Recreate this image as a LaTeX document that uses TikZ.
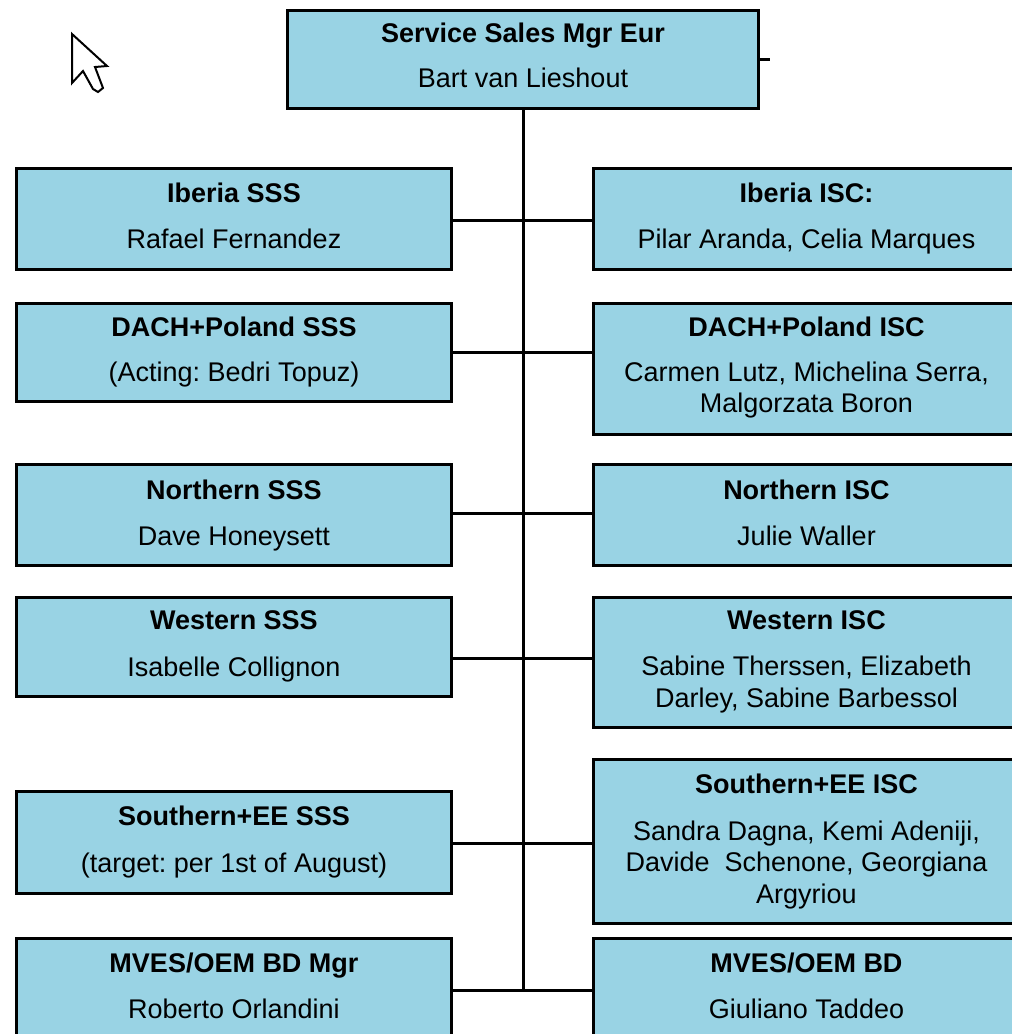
\documentclass[tikz,border=0pt]{standalone}
\usepackage{fontspec}
\setmainfont{Liberation Sans}
\frenchspacing
\definecolor{boxblue}{RGB}{153,211,228}
\begin{document}
\begin{tikzpicture}[x=1pt,y=-1pt,
  orgbox/.style={draw=black, line width=3pt, fill=boxblue, rectangle, inner sep=0pt, anchor=north west},
  conn/.style={draw=black, line width=3pt},
  ttl/.style={anchor=base, inner sep=0pt, font=\fontsize{27}{31}\selectfont\bfseries},
  nm/.style={anchor=base, inner sep=0pt, font=\fontsize{27}{31}\selectfont}]
\useasboundingbox (0,0) rectangle (1012,1034);
\clip (0,0) rectangle (1012,1034);
\fill[white] (0,0) rectangle (1012,1034);

% top box
\node[orgbox, minimum width=471pt, minimum height=98pt] (top) at (286,9) {};
\node[ttl] (topT) at ([yshift=-33pt]top.north) {Service Sales Mgr Eur};
\node[nm]  (topN) at ([yshift=-78pt]top.north) {Bart van Lieshout};

% left column
\node[orgbox, minimum width=435pt, minimum height=101pt] (iL) at (15,167) {};
\node[orgbox, minimum width=435pt, minimum height=98pt]  (dL) at (15,302) {};
\node[orgbox, minimum width=435pt, minimum height=101pt] (nL) at (15,463) {};
\node[orgbox, minimum width=435pt, minimum height=99pt]  (wL) at (15,596) {};
\node[orgbox, minimum width=435pt, minimum height=102pt] (sL) at (15,790) {};
\node[orgbox, minimum width=435pt, minimum height=104pt] (mL) at (15,937) {};

% right column
\node[orgbox, minimum width=426pt, minimum height=101pt] (iR) at (592,167) {};
\node[orgbox, minimum width=426pt, minimum height=131pt] (dR) at (592,302) {};
\node[orgbox, minimum width=426pt, minimum height=101pt] (nR) at (592,463) {};
\node[orgbox, minimum width=426pt, minimum height=130pt] (wR) at (592,596) {};
\node[orgbox, minimum width=426pt, minimum height=164pt] (sR) at (592,758) {};
\node[orgbox, minimum width=426pt, minimum height=104pt] (mR) at (592,937) {};

% texts left
\node[ttl] at ([yshift=-35pt]iL.north) {Iberia SSS};
\node[nm]  at ([yshift=-81pt]iL.north) {Rafael Fernandez};
\node[ttl] at ([yshift=-34pt]dL.north) {DACH+Poland SSS};
\node[nm]  at ([yshift=-79pt]dL.north) {(Acting: Bedri Topuz)};
\node[ttl] at ([yshift=-36pt]nL.north) {Northern SSS};
\node[nm]  at ([yshift=-82pt]nL.north) {Dave Honeysett};
\node[ttl] at ([yshift=-33pt]wL.north) {Western SSS};
\node[nm]  at ([yshift=-80pt]wL.north) {Isabelle Collignon};
\node[ttl] at ([yshift=-35pt]sL.north) {Southern+EE SSS};
\node[nm]  at ([yshift=-82pt]sL.north) {(target: per 1st of August)};
\node[ttl] at ([yshift=-35pt]mL.north) {MVES/OEM BD Mgr};
\node[nm]  at ([yshift=-81pt]mL.north) {Roberto Orlandini};

% texts right
\node[ttl] at ([yshift=-35pt]iR.north) {Iberia ISC:};
\node[nm]  at ([yshift=-81pt]iR.north) {Pilar Aranda, Celia Marques};
\node[ttl] at ([yshift=-34pt]dR.north) {DACH+Poland ISC};
\node[nm]  at ([yshift=-79pt]dR.north) {Carmen Lutz, Michelina Serra,};
\node[nm]  at ([yshift=-110pt]dR.north) {Malgorzata Boron};
\node[ttl] at ([yshift=-36pt]nR.north) {Northern ISC};
\node[nm]  at ([yshift=-82pt]nR.north) {Julie Waller};
\node[ttl] at ([yshift=-33pt]wR.north) {Western ISC};
\node[nm]  at ([yshift=-79pt]wR.north) {Sabine Therssen, Elizabeth};
\node[nm]  at ([yshift=-111pt]wR.north) {Darley, Sabine Barbessol};
\node[ttl] at ([yshift=-35pt]sR.north) {Southern+EE ISC};
\node[nm]  at ([yshift=-82pt]sR.north) {Sandra Dagna, Kemi Adeniji,};
\node[nm]  at ([yshift=-113pt]sR.north) {Davide\ \ Schenone, Georgiana};
\node[nm]  at ([yshift=-145pt]sR.north) {Argyriou};
\node[ttl] at ([yshift=-35pt]mR.north) {MVES/OEM BD};
\node[nm]  at ([yshift=-81pt]mR.north) {Giuliano Taddeo};

% connectors
\coordinate (trunkEnd) at (top.south |- mL.east);
\draw[conn] (top.south) -- (trunkEnd);
\draw[conn] (top.east) -- ++(10,0);
\draw[conn] ([yshift=-1.5pt]iL.east) -- ([yshift=-1.5pt]iL.east -| iR.west);
\draw[conn] (dL.east) -- (dL.east -| dR.west);
\draw[conn] ([yshift=2pt]nL.east) -- ([yshift=2pt]nL.east -| nR.west);
\draw[conn] ([yshift=-11.5pt]wL.east) -- ([yshift=-11.5pt]wL.east -| wR.west);
\draw[conn] ([yshift=-1pt]sL.east) -- ([yshift=-1pt]sL.east -| sR.west);
\draw[conn] (mL.east) -- (mL.east -| mR.west);

% mouse cursor
\draw[line width=2pt, fill=white, line join=miter]
  (72,34) -- (72,83) -- (83,71) -- (93,89) -- (98,92) -- (103,88) -- (95,67) -- (107,66) -- cycle;
\end{tikzpicture}
\end{document}
